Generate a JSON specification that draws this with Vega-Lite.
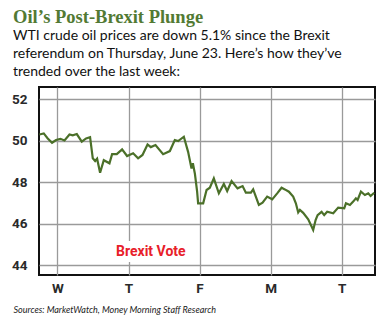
{
  "$schema": "https://vega.github.io/schema/vega-lite/v6.json",
  "width": 336,
  "height": 188,
  "autosize": "none",
  "padding": {"left": 39, "top": 87, "right": 15, "bottom": 46},
  "background": "white",
  "title": {
    "text": "Oil’s Post-Brexit Plunge",
    "subtitle": ["WTI crude oil prices are down 5.1% since the Brexit", "referendum on Thursday, June 23. Here’s how they’ve", "trended over the last week:"],
    "anchor": "start",
    "frame": "group",
    "dx": -26,
    "offset": 8,
    "font": "Liberation Serif",
    "fontSize": 18.5,
    "fontWeight": "bold",
    "color": "#527a33",
    "subtitleFont": "Lato",
    "subtitleFontSize": 14,
    "subtitleColor": "#111111",
    "subtitleLineHeight": 18,
    "subtitlePadding": 3
  },
  "config": {
    "view": {"stroke": "#111111", "strokeWidth": 2},
    "axis": {"grid": true, "gridColor": "#9a9a9a", "gridWidth": 1.3, "ticks": false, "domain": false, "labelFont": "Roboto", "labelFontWeight": "bold", "labelFontSize": 13.5, "labelColor": "#2a2a2a"}
  },
  "datasets": {
    "oil": [
      {"t": -0.254, "price": 50.31}, {"t": -0.193, "price": 50.36}, {"t": -0.137, "price": 50.12}, {"t": -0.076, "price": 49.91},
      {"t": -0.020, "price": 50.04}, {"t": 0.042, "price": 50.10}, {"t": 0.099, "price": 50.02}, {"t": 0.169, "price": 50.31},
      {"t": 0.215, "price": 50.27}, {"t": 0.272, "price": 50.33}, {"t": 0.342, "price": 49.96}, {"t": 0.403, "price": 50.12},
      {"t": 0.459, "price": 50.18}, {"t": 0.497, "price": 49.16}, {"t": 0.530, "price": 49.03}, {"t": 0.558, "price": 49.14},
      {"t": 0.600, "price": 48.46}, {"t": 0.652, "price": 49.07}, {"t": 0.732, "price": 48.92}, {"t": 0.769, "price": 49.36},
      {"t": 0.835, "price": 49.36}, {"t": 0.910, "price": 49.59}, {"t": 0.980, "price": 49.27}, {"t": 1.065, "price": 49.40},
      {"t": 1.135, "price": 49.16}, {"t": 1.197, "price": 49.32}, {"t": 1.268, "price": 49.83}, {"t": 1.314, "price": 49.70},
      {"t": 1.380, "price": 49.80}, {"t": 1.487, "price": 49.36}, {"t": 1.582, "price": 49.51}, {"t": 1.652, "price": 50.04},
      {"t": 1.699, "price": 49.99}, {"t": 1.779, "price": 50.20}, {"t": 1.839, "price": 49.47}, {"t": 1.887, "price": 48.67},
      {"t": 1.906, "price": 48.92}, {"t": 1.934, "price": 48.43}, {"t": 1.966, "price": 47.55}, {"t": 1.980, "price": 46.99},
      {"t": 2.051, "price": 46.99}, {"t": 2.099, "price": 47.63}, {"t": 2.145, "price": 47.74}, {"t": 2.201, "price": 48.19},
      {"t": 2.272, "price": 47.47}, {"t": 2.342, "price": 47.92}, {"t": 2.389, "price": 47.58}, {"t": 2.451, "price": 48.06},
      {"t": 2.535, "price": 47.71}, {"t": 2.606, "price": 47.82}, {"t": 2.652, "price": 47.50}, {"t": 2.723, "price": 47.50},
      {"t": 2.755, "price": 47.66}, {"t": 2.835, "price": 46.91}, {"t": 2.887, "price": 47.02}, {"t": 2.952, "price": 47.31},
      {"t": 3.023, "price": 47.18}, {"t": 3.093, "price": 47.47}, {"t": 3.155, "price": 47.74}, {"t": 3.201, "price": 47.66},
      {"t": 3.258, "price": 47.55}, {"t": 3.318, "price": 47.31}, {"t": 3.356, "price": 46.99}, {"t": 3.389, "price": 46.55},
      {"t": 3.413, "price": 46.67}, {"t": 3.459, "price": 46.53}, {"t": 3.530, "price": 46.22}, {"t": 3.600, "price": 45.70},
      {"t": 3.634, "price": 46.18}, {"t": 3.662, "price": 46.42}, {"t": 3.718, "price": 46.58}, {"t": 3.755, "price": 46.42},
      {"t": 3.797, "price": 46.58}, {"t": 3.882, "price": 46.51}, {"t": 3.952, "price": 46.78}, {"t": 4.037, "price": 46.75},
      {"t": 4.061, "price": 46.99}, {"t": 4.117, "price": 46.91}, {"t": 4.163, "price": 47.07}, {"t": 4.201, "price": 47.23},
      {"t": 4.225, "price": 47.15}, {"t": 4.272, "price": 47.55}, {"t": 4.328, "price": 47.39}, {"t": 4.375, "price": 47.47},
      {"t": 4.408, "price": 47.34}, {"t": 4.459, "price": 47.50}
    ],
    "note": [
      {"t": 0.81, "t2": 1.81, "lo": 44.16, "hi": 45.17, "t_text": 1.314, "y_text": 44.64, "label": "Brexit Vote"}
    ]
  },
  "layer": [
    {
      "data": {"name": "note"},
      "mark": {"type": "rect", "fill": "white"},
      "encoding": {
        "x": {"field": "t", "type": "quantitative", "scale": {"domain": [-0.26, 4.47], "nice": false, "zero": false},
          "axis": {"values": [0, 1, 2, 3, 4], "labelExpr": "['W','T','F','M','T'][datum.value]", "labelPadding": 6,
            "title": "Sources: MarketWatch, Money Morning Staff Research", "titleFont": "Lato", "titleFontStyle": "italic", "titleFontWeight": "normal", "titleFontSize": 9, "titleColor": "#222222", "titleAnchor": "start", "titleAlign": "left", "titleBaseline": "alphabetic", "titleX": -26, "titleY": 37}},
        "x2": {"field": "t2"},
        "y": {"field": "lo", "type": "quantitative", "scale": {"domain": [43.53, 52.6], "nice": false, "zero": false},
          "axis": {"values": [44, 46, 48, 50, 52], "title": null, "labelPadding": 12}},
        "y2": {"field": "hi"}
      }
    },
    {
      "data": {"name": "oil"},
      "mark": {"type": "line", "color": "#4b7029", "strokeWidth": 2.2},
      "encoding": {
        "x": {"field": "t", "type": "quantitative"},
        "y": {"field": "price", "type": "quantitative"}
      }
    },
    {
      "data": {"name": "note"},
      "mark": {"type": "text", "color": "#e8202a", "font": "Roboto", "fontWeight": "bold", "fontSize": 14, "align": "center", "baseline": "middle"},
      "encoding": {
        "x": {"field": "t_text", "type": "quantitative"},
        "y": {"field": "y_text", "type": "quantitative"},
        "text": {"field": "label"}
      }
    }
  ]
}
